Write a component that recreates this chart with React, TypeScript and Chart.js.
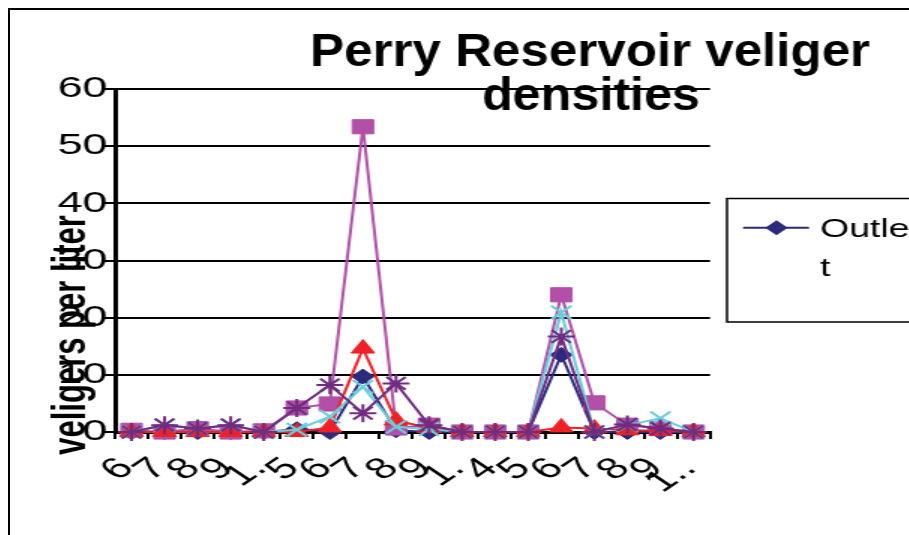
import { useEffect, useRef } from 'react';
import { Chart, registerables } from 'chart.js';

Chart.register(...registerables);

// ---- data ----
const categories = ['6', '7', '8', '9', '1.', '5', '6', '7', '8', '9', '1.', '4', '5', '6', '7', '8', '9', '1..'];
const seriesNames = ['Outlet', 'Series 2', 'Series 3', 'Series 4', 'Series 5'];
const outlet = [0, 0, 0, 0, 0, 0.5, 0, 9.7, 0.3, 0, 0, 0, 0, 13.5, 0, 0, 0, 0];
const series2 = [0.3, 0, 0.6, 0, 0.2, 4.2, 4.9, 53.4, 0.7, 1.2, 0, 0, 0, 24.0, 5.1, 1.2, 0.6, 0];
const series3 = [0, 0, 0, 0, 0, 0, 0.8, 14.6, 2.0, 0.7, 0, 0, 0, 0.8, 0.6, 0.3, 0.2, 0];
const series4 = [0, 1.2, 0.6, 1.2, 0, 0.4, 2.7, 7.9, 0.9, 0.5, 0, 0, 0, 20.9, 0, 1.2, 2.4, 0];
const series5 = [0, 1.2, 0.6, 1.2, 0, 4.2, 8.2, 3.3, 8.5, 1.2, 0, 0, 0, 16.7, 0, 1.3, 0.6, 0];
const yTicks = [0, 10, 20, 30, 40, 50, 60];
const titleLines = ['Perry Reservoir veliger', 'densities'];
const yTitle = 'veligers per liter';
const legendLines = ['Outle', 't'];

const colors = ['#2B2A7C', '#B24FA7', '#EE2127', '#6CCDDB', '#6F2C81'];
const pointStyles = ['rectRot', 'rect', 'triangle', 'crossRot', 'star'];
const radii = [7.5, 10, 9, 9.5, 9];

const STRETCH = 1.5;
const CW = 660;
const CH = 560;
const AREA = { left: 70, right: 466.7, top: 79, bottom: 422 };

function fitText(ctx: CanvasRenderingContext2D, text: string, font: string, cx: number, baseline: number, width: number) {
  ctx.save();
  ctx.font = font;
  const w = ctx.measureText(text).width;
  const k = width / w;
  ctx.translate(cx, baseline);
  ctx.scale(k, 1);
  ctx.textAlign = 'center';
  ctx.textBaseline = 'alphabetic';
  ctx.fillText(text, 0, 0);
  ctx.restore();
}

const overlayPlugin = {
  id: 'overlayText',
  afterDraw(chart: any) {
    const ctx: CanvasRenderingContext2D = chart.ctx;
    ctx.save();
    ctx.fillStyle = '#000';
    // title
    fitText(ctx, titleLines[0], 'bold 46px "Liberation Sans", Arial, sans-serif', 386.7, 56, 373.3);
    fitText(ctx, titleLines[1], 'bold 46px "Liberation Sans", Arial, sans-serif', 387.3, 100, 145.3);
    // y axis title
    ctx.save();
    ctx.font = 'bold 31px "Liberation Sans", Arial, sans-serif';
    ctx.translate(49.5, 325);
    ctx.rotate(-Math.PI / 2);
    ctx.textAlign = 'center';
    ctx.textBaseline = 'alphabetic';
    ctx.fillText(yTitle, 0, 0);
    ctx.restore();
    // legend box (right side runs past the picture)
    ctx.strokeStyle = '#000';
    ctx.lineWidth = 1.5;
    ctx.beginPath();
    ctx.moveTo(CW + 10, 188.5);
    ctx.lineTo(478, 188.5);
    ctx.lineTo(478, 312);
    ctx.lineTo(CW + 10, 312);
    ctx.stroke();
    ctx.strokeStyle = colors[0];
    ctx.lineWidth = 2;
    ctx.beginPath();
    ctx.moveTo(488.7, 217.7);
    ctx.lineTo(532.7, 217.7);
    ctx.stroke();
    ctx.fillStyle = colors[0];
    ctx.beginPath();
    ctx.moveTo(511, 217.7 - 7.5);
    ctx.lineTo(511 + 7.5, 217.7);
    ctx.lineTo(511, 217.7 + 7.5);
    ctx.lineTo(511 - 7.5, 217.7);
    ctx.closePath();
    ctx.fill();
    ctx.fillStyle = '#000';
    ctx.font = '25px "Liberation Sans", Arial, sans-serif';
    ctx.textAlign = 'left';
    ctx.textBaseline = 'alphabetic';
    ctx.fillText(legendLines[0], 540, 226.7);
    ctx.fillText(legendLines[1], 540, 266);
    ctx.restore();
  },
};

export default function App() {
  const canvasRef = useRef<HTMLCanvasElement | null>(null);

  useEffect(() => {
    document.documentElement.style.overflow = 'hidden';
    document.body.style.overflow = 'hidden';
    if (!canvasRef.current) return;
    const all = [outlet, series2, series3, series4, series5];
    const datasets = all.map((data, i) => {
      const stroked = pointStyles[i] === 'crossRot' || pointStyles[i] === 'star';
      return {
        label: seriesNames[i],
        data,
        borderColor: colors[i],
        backgroundColor: colors[i],
        borderWidth: 2,
        tension: 0,
        pointStyle: pointStyles[i],
        pointRadius: radii[i],
        pointBackgroundColor: colors[i],
        pointBorderColor: colors[i],
        pointBorderWidth: stroked ? 2 : 1,
        order: 4 - i,
        clip: false as any,
      };
    });

    const chart = new Chart(canvasRef.current, {
      type: 'line',
      data: { labels: categories, datasets },
      options: {
        responsive: false,
        animation: false,
        devicePixelRatio: 1,
        layout: {
          padding: { left: 0, top: AREA.top, right: CW - AREA.right, bottom: 0 },
        },
        plugins: {
          legend: { display: false },
          title: { display: false },
          tooltip: { enabled: false },
        },
        scales: {
          x: {
            type: 'category',
            offset: true,
            afterFit: (scale: any) => {
              scale.height = CH - AREA.bottom;
            },
            grid: {
              display: true,
              drawOnChartArea: false,
              drawTicks: true,
              tickLength: 7,
              color: '#000',
              lineWidth: 2,
              offset: true,
            },
            border: { display: true, color: '#000', width: 3 },
            ticks: {
              autoSkip: false,
              minRotation: 45,
              maxRotation: 45,
              padding: 12,
              labelOffset: -3,
              color: '#000',
              font: { family: '"Liberation Sans", Arial, sans-serif', size: 30 },
            },
          },
          y: {
            type: 'linear',
            min: yTicks[0],
            max: yTicks[yTicks.length - 1],
            afterFit: (scale: any) => {
              scale.width = AREA.left;
            },
            afterBuildTicks: (scale: any) => {
              scale.ticks = yTicks.map((v) => ({ value: v }));
            },
            grid: {
              color: '#000',
              lineWidth: 2,
              tickLength: 8,
              drawTicks: true,
            },
            border: { display: true, color: '#000', width: 3 },
            ticks: {
              padding: -3,
              color: '#000',
              font: { family: '"Liberation Sans", Arial, sans-serif', size: 30 },
            },
          },
        },
      },
      plugins: [overlayPlugin],
    });
    return () => chart.destroy();
  }, []);

  return (
    <div
      style={{
        position: 'fixed',
        left: 8,
        top: 8,
        width: 1000,
        height: 600,
        overflow: 'hidden',
        borderLeft: '2px solid #000',
        borderTop: '2px solid #000',
        boxSizing: 'border-box',
        background: '#fff',
      }}
    >
      <canvas
        ref={canvasRef}
        width={CW}
        height={CH}
        style={{ display: 'block', width: CW, height: CH, transform: `scaleX(${STRETCH})`, transformOrigin: '0 0' }}
      />
    </div>
  );
}
